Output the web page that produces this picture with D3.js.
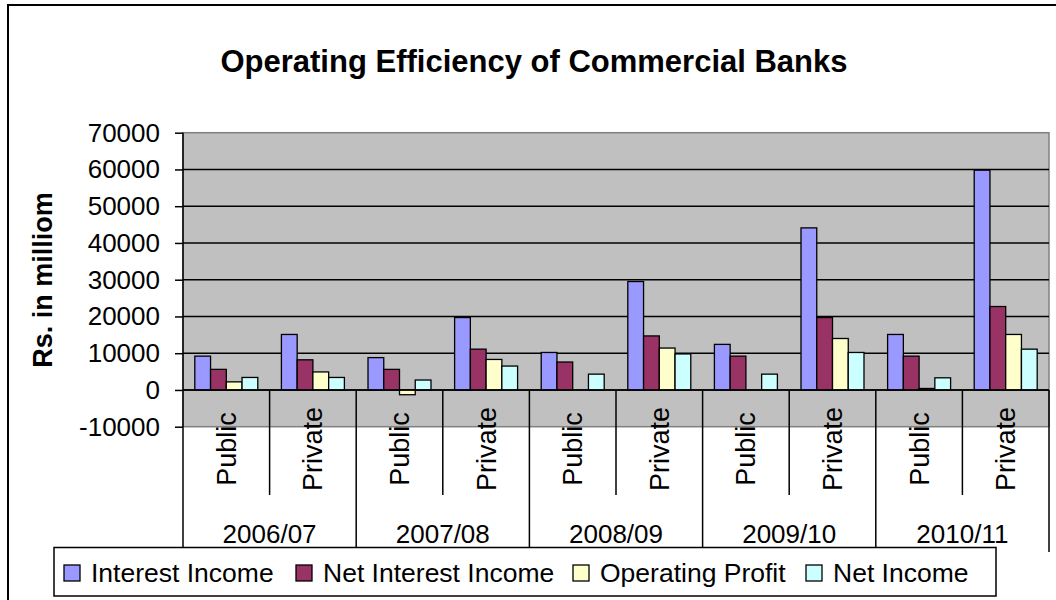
<!DOCTYPE html>
<html><head><meta charset="utf-8">
<script src="https://cdn.jsdelivr.net/npm/d3@7"></script>
<style>
body{margin:0;background:#fff;}
svg{display:block;font-family:"Liberation Sans",Arial,sans-serif;}
</style></head>
<body>
<svg id="chart" width="1056" height="600"></svg>
<script>
const years = ["2006/07","2007/08","2008/09","2009/10","2010/11"];
const sectors = ["Public","Private"];
const seriesNames = ["Interest Income","Net Interest Income","Operating Profit","Net Income"];
const seriesColors = ["#9999FF","#993366","#FFFFCC","#CCFFFF"];
const interestIncome    = [9200,15100, 8800,19700, 10200,29500, 12400,44100, 15100,59800];
const netInterestIncome = [5600, 8200, 5600,11100,  7600,14700,  9200,19700,  9200,22700];
const operatingProfit   = [2200, 4900,-1300, 8300,     0,11400,     0,14000,   400,15100];
const netIncome         = [3400, 3400, 2700, 6500,  4300, 9800,  4300,10200,  3300,11100];
const yTicks = [-10000,0,10000,20000,30000,40000,50000,60000,70000];
const title = "Operating Efficiency of Commercial Banks";
const yTitle = "Rs. in milliom";

const series = [interestIncome, netInterestIncome, operatingProfit, netIncome];
const cats = [];
years.forEach(y => sectors.forEach(s => cats.push(y + "|" + s)));

const svg = d3.select("#chart");
const L = 183, R = 1049, T = 132.7, B = 426.7;

// outer border
svg.append("rect").attr("x",8).attr("y",5).attr("width",1100).attr("height",700)
  .attr("fill","#fff").attr("stroke","#000").attr("stroke-width",2);

const x = d3.scaleBand().domain(cats).range([L,R]).paddingInner(0).paddingOuter(0);
const y = d3.scaleLinear().domain([-10000,70000]).range([B,T]);

// plot background
svg.append("rect").attr("x",L).attr("y",T).attr("width",R-L).attr("height",B-T)
  .attr("fill","#C0C0C0").attr("stroke","#808080").attr("stroke-width",1.5);

// gridlines
svg.append("g").selectAll("line").data(yTicks.filter(d=>d>-10000 && d<70000)).join("line")
  .attr("x1",L).attr("x2",R).attr("y1",d=>y(d)).attr("y2",d=>y(d))
  .attr("stroke","#000").attr("stroke-width",1.5);

// bars
const bw = x.bandwidth()/5.5;
const g = svg.append("g");
series.forEach((vals,si)=>{
  g.selectAll(null).data(vals).join("rect")
    .attr("x",(d,i)=>x(cats[i]) + bw*0.75 + si*bw)
    .attr("y",d=>y(Math.max(0,d)))
    .attr("width",bw)
    .attr("height",d=>Math.abs(y(d)-y(0)))
    .attr("fill",seriesColors[si])
    .attr("stroke","#000").attr("stroke-width",1.3);
});

// y axis
const yAxis = d3.axisLeft(y).tickValues(yTicks).tickSize(8).tickSizeOuter(0).tickFormat(d=>String(d));
const ya = svg.append("g").attr("transform",`translate(${L},0)`).call(yAxis);
ya.select(".domain").remove();
ya.selectAll(".tick line").attr("stroke","#000").attr("stroke-width",1.5);
ya.selectAll(".tick text").attr("x",-23).attr("font-size",26).attr("fill","#000")
  .attr("font-family","Liberation Sans, Arial, sans-serif");
svg.append("line").attr("x1",L).attr("x2",L).attr("y1",T).attr("y2",547)
  .attr("stroke","#000").attr("stroke-width",1.5);

// category axis at zero
svg.append("line").attr("x1",L).attr("x2",R).attr("y1",y(0)).attr("y2",y(0))
  .attr("stroke","#000").attr("stroke-width",1.5);

// inner separators
const yearScale = d3.scaleBand().domain(years).range([L,R]);
years.forEach(yr=>{
  const xs = x(yr+"|Private");
  svg.append("line").attr("x1",xs).attr("x2",xs).attr("y1",y(0)).attr("y2",495)
    .attr("stroke","#000").attr("stroke-width",1.5);
});
// year separators
years.forEach((yr,i)=>{
  const xe = yearScale(yr)+yearScale.bandwidth();
  svg.append("line").attr("x1",xe).attr("x2",xe).attr("y1",y(0)).attr("y2",i===years.length-1?552:547)
    .attr("stroke","#000").attr("stroke-width",1.5);
});

// category labels
svg.append("g").selectAll("text").data(cats).join("text")
  .attr("transform",d=>`translate(${x(d)+x.bandwidth()/2+9.5},449) rotate(-90)`)
  .attr("text-anchor","middle").attr("font-size",27).attr("fill","#000")
  .text(d=>d.split("|")[1]);

// year labels
svg.append("g").selectAll("text").data(years).join("text")
  .attr("x",d=>yearScale(d)+yearScale.bandwidth()/2).attr("y",543)
  .attr("text-anchor","middle").attr("font-size",26).attr("fill","#000")
  .text(d=>d);

// title
svg.append("text").attr("x",534).attr("y",72).attr("text-anchor","middle")
  .attr("font-size",31).attr("font-weight","bold").text(title);

// y title
svg.append("text").attr("transform","translate(52,280) rotate(-90)")
  .attr("text-anchor","middle").attr("font-size",27).attr("font-weight","bold").text(yTitle);

// legend
svg.append("rect").attr("x",54).attr("y",547.5).attr("width",942).attr("height",48.5)
  .attr("fill","#fff").attr("stroke","#000").attr("stroke-width",1.5);
const legX = [64,296,573,806];
seriesNames.forEach((n,i)=>{
  svg.append("rect").attr("x",legX[i]).attr("y",565).attr("width",16).attr("height",16)
    .attr("fill",seriesColors[i]).attr("stroke","#000").attr("stroke-width",1.3);
  svg.append("text").attr("x",legX[i]+27).attr("y",582).attr("font-size",26.5).text(n);
});
</script>
</body></html>
